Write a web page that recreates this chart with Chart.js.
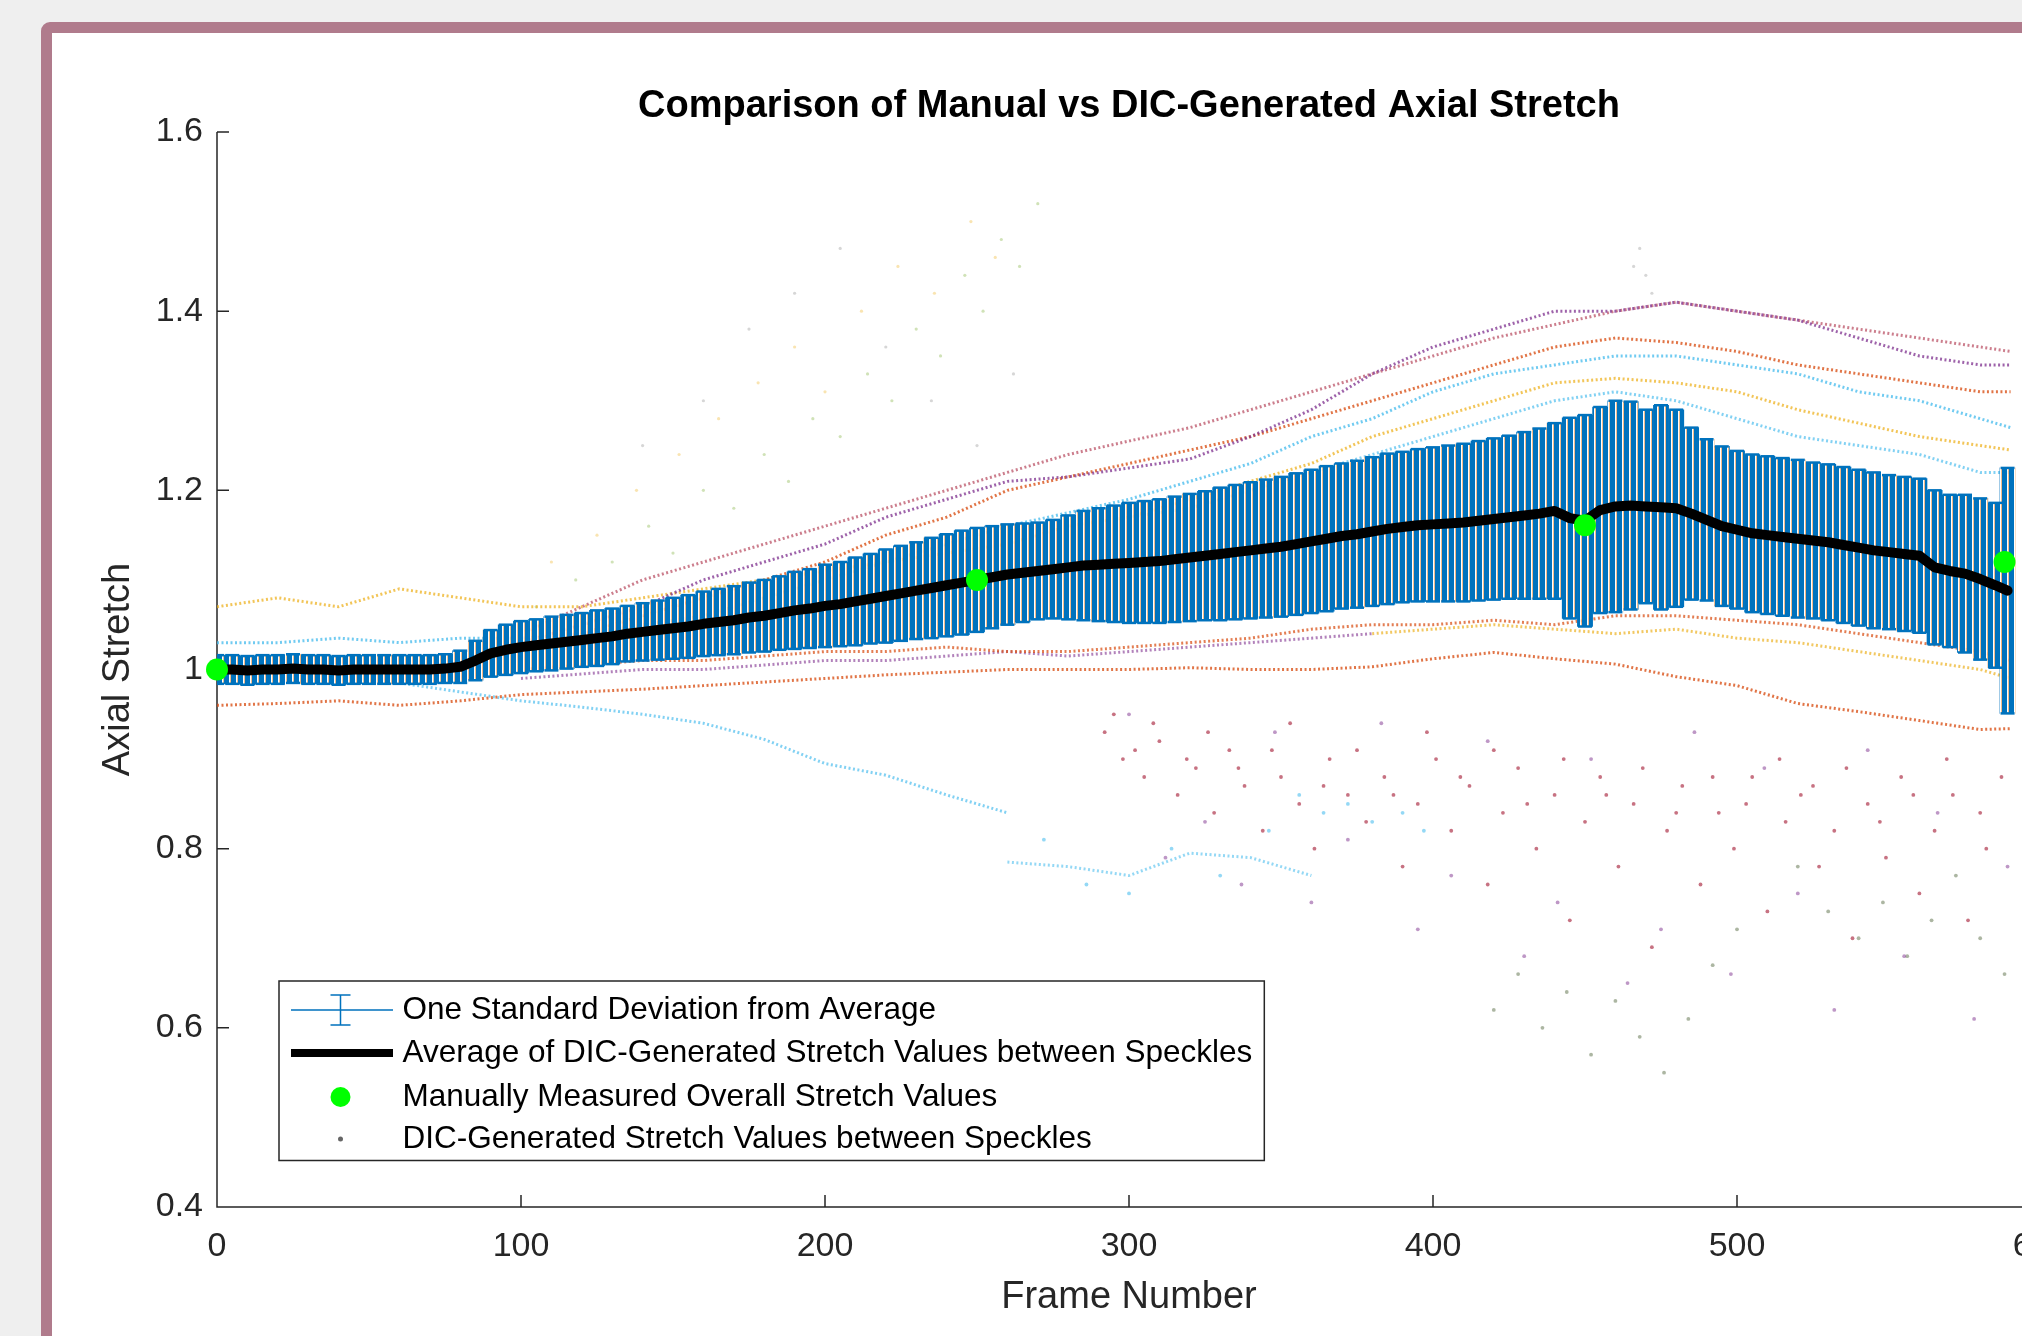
<!DOCTYPE html>
<html><head><meta charset="utf-8">
<script src="https://cdn.jsdelivr.net/npm/chart.js@4.4.1/dist/chart.umd.min.js"></script>
<style>
html,body{margin:0;padding:0;background:#efefef;overflow:hidden;width:2022px;height:1336px;}
#card{position:absolute;left:41px;top:22px;width:2300px;height:1500px;box-sizing:border-box;border:11px solid #b07b8c;border-radius:9px;background:#fff;}
#c{position:absolute;left:0;top:0;z-index:2;}
</style></head><body>
<div id="card"></div>
<canvas id="c" width="2100" height="1336"></canvas>
<script>
// ---------------- DATA ----------------
const chartTitle = 'Comparison of Manual vs DIC-Generated Axial Stretch';
const xAxisTitle = 'Frame Number';
const yAxisTitle = 'Axial Stretch';
const xTickValues = [0,100,200,300,400,500,600];
const xTickLabels = ['0','100','200','300','400','500','600'];
const yTickValues = [0.4,0.6,0.8,1.0,1.2,1.4,1.6];
const yTickLabels = ['0.4','0.6','0.8','1','1.2','1.4','1.6'];
const legendLabels = [
  'One Standard Deviation from Average',
  'Average of DIC-Generated Stretch Values between Speckles',
  'Manually Measured Overall Stretch Values',
  'DIC-Generated Stretch Values between Speckles'
];

// average and one standard deviation (sampled every 5 frames)
const frames = [0,5,10,15,20,25,30,35,40,45,50,55,60,65,70,75,80,85,90,95,
  100,105,110,115,120,125,130,135,140,145,150,155,160,165,170,175,180,185,190,195,
  200,205,210,215,220,225,230,235,240,245,250,255,260,265,270,275,280,285,290,295,
  300,305,310,315,320,325,330,335,340,345,350,355,360,365,370,375,380,385,390,395,
  400,405,410,415,420,425,430,435,440,445,450,455,460,465,470,475,480,485,490,495,
  500,505,510,515,520,525,530,535,540,545,550,555,560,565,570,575,580,585,589];
const meanStretch = [1.000,1.000,0.999,1.000,1.000,1.001,1.000,1.000,0.999,1.000,
  1.000,1.000,1.000,1.000,1.000,1.001,1.003,1.010,1.018,1.022,
  1.025,1.027,1.029,1.031,1.033,1.035,1.037,1.040,1.042,1.044,
  1.046,1.048,1.051,1.053,1.055,1.058,1.060,1.063,1.066,1.068,
  1.071,1.073,1.076,1.079,1.082,1.085,1.088,1.091,1.094,1.097,
  1.100,1.103,1.106,1.108,1.110,1.112,1.114,1.116,1.117,1.118,
  1.119,1.120,1.121,1.123,1.125,1.127,1.129,1.131,1.133,1.135,
  1.137,1.140,1.143,1.146,1.149,1.151,1.154,1.157,1.159,1.161,
  1.162,1.163,1.164,1.166,1.168,1.170,1.172,1.174,1.177,1.169,
  1.166,1.178,1.182,1.183,1.182,1.181,1.180,1.174,1.167,1.160,
  1.156,1.152,1.150,1.148,1.146,1.144,1.142,1.139,1.136,1.133,
  1.131,1.129,1.127,1.114,1.110,1.107,1.101,1.094,1.088];
const stdStretch = [0.016,0.016,0.016,0.016,0.016,0.016,0.016,0.016,0.016,0.016,
  0.016,0.016,0.016,0.016,0.016,0.016,0.018,0.022,0.026,0.028,
  0.029,0.029,0.030,0.030,0.030,0.031,0.031,0.031,0.032,0.033,
  0.034,0.035,0.036,0.037,0.038,0.039,0.040,0.041,0.043,0.044,
  0.046,0.047,0.049,0.050,0.052,0.053,0.054,0.056,0.057,0.058,
  0.058,0.057,0.056,0.055,0.054,0.055,0.058,0.061,0.063,0.065,
  0.067,0.068,0.069,0.070,0.071,0.072,0.074,0.075,0.076,0.077,
  0.078,0.079,0.080,0.081,0.081,0.082,0.083,0.084,0.084,0.085,
  0.086,0.087,0.088,0.089,0.090,0.091,0.093,0.095,0.098,0.112,
  0.118,0.115,0.118,0.116,0.108,0.114,0.110,0.096,0.090,0.089,
  0.088,0.088,0.088,0.088,0.088,0.087,0.087,0.087,0.087,0.087,
  0.086,0.086,0.086,0.086,0.085,0.088,0.090,0.092,0.137];

// manually measured values
const manualFrames = [0,250,450,588];
const manualStretch = [1.000,1.100,1.161,1.120];

// DIC speckle-pair tracks (sampled every 20 frames)
const trackFrames = [0,20,40,60,80,100,120,140,160,180,200,220,240,260,280,300,320,340,360,380,400,420,440,460,480,500,520,540,560,580,590];
const purpleHigh = [null,null,null,null,null,1.03,1.05,1.07,1.10,1.12,1.14,1.17,1.19,1.21,1.215,1.225,1.235,1.26,1.29,1.33,1.36,1.38,1.40,1.40,1.41,1.40,1.39,1.37,1.35,1.34,1.34];
const redHigh = [null,null,null,null,null,1.04,1.07,1.10,1.12,1.14,1.16,1.18,1.20,1.22,1.24,1.255,1.27,1.29,1.31,1.33,1.35,1.37,1.385,1.40,1.41,1.40,1.39,1.38,1.37,1.36,1.355];
const orangeHigh = [null,null,null,null,null,1.02,1.04,1.06,1.08,1.10,1.12,1.15,1.17,1.20,1.215,1.23,1.245,1.26,1.28,1.30,1.32,1.34,1.36,1.37,1.365,1.355,1.34,1.33,1.32,1.31,1.31];
const blueHigh = [1.03,1.03,1.035,1.03,1.035,1.035,1.04,1.05,1.06,1.08,1.10,1.12,1.14,1.16,1.175,1.19,1.21,1.23,1.26,1.28,1.31,1.33,1.34,1.35,1.35,1.34,1.33,1.31,1.30,1.28,1.27];
const yellowHigh = [1.07,1.08,1.07,1.09,1.08,1.07,1.07,1.08,1.09,1.10,1.11,1.12,1.13,1.14,1.16,1.17,1.19,1.21,1.23,1.26,1.28,1.30,1.32,1.325,1.32,1.31,1.29,1.275,1.26,1.25,1.245];
const blueMid = [null,null,null,null,null,null,null,null,null,null,null,null,null,null,null,1.17,1.18,1.20,1.22,1.24,1.26,1.28,1.30,1.31,1.30,1.28,1.26,1.25,1.24,1.22,1.22];
const orangeUnder = [null,null,null,null,null,1.00,1.005,1.01,1.01,1.015,1.02,1.02,1.025,1.02,1.02,1.025,1.03,1.035,1.045,1.05,1.05,1.055,1.05,1.06,1.06,1.055,1.05,1.04,1.03,1.02,1.01];
const purpleUnder = [null,null,null,null,null,0.99,0.995,1.00,1.00,1.005,1.01,1.01,1.015,1.02,1.015,1.02,1.025,1.03,1.035,1.04,null,null,null,null,null,null,null,null,null,null,null];
const yellowUnder = [null,null,null,null,null,null,null,null,null,null,null,null,null,null,null,null,null,null,null,1.04,1.045,1.05,1.045,1.04,1.045,1.035,1.03,1.02,1.01,1.00,0.99];
const orangeLow = [0.96,0.962,0.965,0.96,0.965,0.972,0.975,0.978,0.982,0.986,0.99,0.994,0.997,1.0,1.0,1.0,1.002,1.0,1.0,1.003,1.012,1.019,1.012,1.006,0.992,0.982,0.962,0.953,0.943,0.933,0.934];
const blueLow = [null,null,null,0.985,0.975,0.965,0.958,0.95,0.94,0.922,0.895,0.882,0.86,0.84,null,null,null,null,null,null,null,null,null,null,null,null,null,null,null,null,null];
const blueLower = [null,null,null,null,null,null,null,null,null,null,null,null,null,0.785,0.78,0.77,0.795,0.79,0.77,null,null,null,null,null,null,null,null,null,null,null,null];

// scattered speckle values [frame, stretch]
const cloudDarkRed = [[292,0.93],[298,0.90],[305,0.88],[310,0.92],[316,0.86],[322,0.89],[328,0.84],[333,0.91],[338,0.87],[344,0.82],[350,0.88],[356,0.85],[361,0.80],[366,0.90],[372,0.86],[378,0.83],[384,0.88],[390,0.78],[395,0.85],[401,0.90],[406,0.82],[412,0.87],[418,0.76],[423,0.84],[428,0.89],[434,0.80],[440,0.86],[445,0.72],[450,0.83],[455,0.88],[461,0.78],[466,0.85],[472,0.69],[477,0.82],[482,0.87],[488,0.76],[494,0.84],[499,0.80],[505,0.88],[510,0.73],[516,0.83],[521,0.86],[527,0.78],[532,0.82],[538,0.70],[543,0.85],[549,0.79],[554,0.88],[560,0.75],[565,0.82],[571,0.86],[576,0.72],[582,0.80],[587,0.88],
  [295,0.95],[302,0.91],[308,0.94],[319,0.90],[326,0.93],[336,0.89],[347,0.91],[353,0.94],[364,0.87],[375,0.91],[387,0.86],[398,0.93],[409,0.88],[420,0.91],[431,0.85],[443,0.90],[457,0.86],[469,0.89],[480,0.84],[492,0.88],[503,0.85],[514,0.90],[525,0.87],[536,0.89],[547,0.83],[558,0.86],[569,0.90],[580,0.84]];
const cloudPurple = [[300,0.95],[312,0.79],[325,0.83],[337,0.76],[348,0.93],[360,0.74],[372,0.81],[383,0.94],[395,0.71],[406,0.77],[418,0.92],[430,0.68],[441,0.74],[452,0.90],[464,0.65],[475,0.71],[486,0.93],[498,0.66],[509,0.89],[520,0.75],[532,0.62],[543,0.91],[555,0.68],[566,0.84],[578,0.61],[589,0.78]];
const cloudGreen = [[420,0.62],[428,0.66],[436,0.60],[444,0.64],[452,0.57],[460,0.63],[468,0.59],[476,0.55],[484,0.61],[492,0.67],[500,0.71],[520,0.78],[530,0.73],[540,0.70],[548,0.74],[556,0.68],[564,0.72],[572,0.77],[580,0.70],[588,0.66]];
const cloudLightBlue = [[356,0.86],[364,0.84],[372,0.85],[380,0.83],[390,0.84],[397,0.82],[272,0.81],[286,0.76],[300,0.75],[314,0.80],[330,0.77],[346,0.82]];
const faintOlive = [[105,1.07],[118,1.10],[130,1.12],[142,1.16],[150,1.13],[160,1.20],[170,1.18],[180,1.24],[188,1.21],[196,1.28],[205,1.26],[214,1.33],[222,1.30],[230,1.38],[238,1.35],[246,1.44],[252,1.40],[258,1.48],[264,1.45],[270,1.52]];
const faintYellow = [[110,1.12],[125,1.15],[138,1.20],[152,1.24],[165,1.28],[178,1.32],[190,1.36],[200,1.31],[212,1.40],[224,1.45],[236,1.42],[248,1.50],[256,1.46]];
const faintGray = [[140,1.25],[160,1.30],[175,1.38],[190,1.42],[205,1.47],[220,1.36],[235,1.30],[250,1.25],[262,1.33],[466,1.45],[468,1.47],[470,1.44],[472,1.42]];

// ---------------- BUILD ----------------
const FONT = "'Liberation Sans', Arial, Helvetica, sans-serif";
const BLUE = '#0072BD';
Chart.defaults.font.family = FONT;

function pts(xs, ys){ return xs.map((x,i)=>({x:x, y:ys[i]})); }
function pairPts(list){ return list.map(p=>({x:p[0], y:p[1]})); }

// striped fill to look like dense individual error bars
const pc = document.createElement('canvas'); pc.width = 7; pc.height = 1;
const pctx = pc.getContext('2d');
pctx.fillStyle = BLUE; pctx.fillRect(0,0,5,1);
pctx.fillStyle = 'rgba(255,255,255,0.9)'; pctx.fillRect(5,0,1,1);
pctx.fillStyle = 'rgba(238,175,120,0.85)'; pctx.fillRect(6,0,1,1);
const stripe = document.getElementById('c').getContext('2d').createPattern(pc,'repeat');

const barData = frames.map((f,i)=>({x:f, y:[meanStretch[i]-stdStretch[i], meanStretch[i]+stdStretch[i]]}));
const capHi = frames.map((f,i)=>({x:f, y:meanStretch[i]+stdStretch[i]}));
const capLo = frames.map((f,i)=>({x:f, y:meanStretch[i]-stdStretch[i]}));

function track(arr, color){
  return {type:'scatter', data: pts(trackFrames, arr), showLine:true, spanGaps:false,
    borderColor: color, borderWidth: 3, borderDash:[2,2.5], pointRadius:0, order:5};
}
function cloud(list, color, r){
  return {type:'scatter', data: pairPts(list), showLine:false, pointRadius:r,
    pointBackgroundColor: color, pointBorderWidth:0, order:6};
}

const datasets = [
  {type:'scatter', label:legendLabels[2], data: pts(manualFrames, manualStretch), pointRadius:11,
   pointBackgroundColor:'#00FF00', pointBorderColor:'#00FF00', pointBorderWidth:0, showLine:false, clip:false, order:0},
  {type:'scatter', label:legendLabels[1], data: pts(frames, meanStretch), showLine:true, borderColor:'#000',
   borderWidth:10, pointRadius:0, borderJoinStyle:'round', borderCapStyle:'round', order:1},
  {type:'scatter', data: capHi, pointStyle:'line', pointRadius:7, pointBorderColor:BLUE, pointBorderWidth:2.5, showLine:false, clip:0, order:2},
  {type:'scatter', data: capLo, pointStyle:'line', pointRadius:7, pointBorderColor:BLUE, pointBorderWidth:2.5, showLine:false, clip:0, order:2},
  {type:'bar', label:legendLabels[0], data: barData, backgroundColor: stripe, borderWidth:0, barThickness:15.2, order:3},
  track(purpleHigh, 'rgba(126,47,142,0.75)'),
  track(redHigh, 'rgba(162,20,47,0.55)'),
  track(orangeHigh, 'rgba(217,83,25,0.8)'),
  track(blueHigh, 'rgba(77,190,238,0.8)'),
  track(yellowHigh, 'rgba(237,177,32,0.75)'),
  track(blueMid, 'rgba(77,190,238,0.7)'),
  track(orangeUnder, 'rgba(217,83,25,0.75)'),
  track(purpleUnder, 'rgba(126,47,142,0.6)'),
  track(yellowUnder, 'rgba(237,177,32,0.7)'),
  track(orangeLow, 'rgba(217,83,25,0.8)'),
  track(blueLow, 'rgba(77,190,238,0.7)'),
  track(blueLower, 'rgba(77,190,238,0.6)'),
  cloud(cloudDarkRed, 'rgba(162,20,47,0.6)', 1.9),
  cloud(cloudPurple, 'rgba(126,47,142,0.5)', 1.9),
  cloud(cloudGreen, 'rgba(90,110,70,0.5)', 1.9),
  cloud(cloudLightBlue, 'rgba(77,190,238,0.6)', 1.9),
  cloud(faintOlive, 'rgba(119,172,48,0.35)', 1.6),
  cloud(faintYellow, 'rgba(237,177,32,0.35)', 1.6),
  cloud(faintGray, 'rgba(120,120,120,0.3)', 1.6)
];

const axesPlugin = {
  id: 'matlabAxes',
  beforeDatasetsDraw(chart){
    const {ctx, chartArea:a, scales:{x, y}} = chart;
    ctx.save();
    ctx.strokeStyle = '#262626'; ctx.lineWidth = 1.5;
    ctx.beginPath();
    ctx.moveTo(a.left, a.top); ctx.lineTo(a.left, a.bottom); ctx.lineTo(a.right, a.bottom);
    xTickValues.forEach(v=>{ const px = x.getPixelForValue(v); ctx.moveTo(px, a.bottom); ctx.lineTo(px, a.bottom-12); });
    yTickValues.forEach(v=>{ const py = y.getPixelForValue(v); ctx.moveTo(a.left, py); ctx.lineTo(a.left+12, py); });
    ctx.stroke();
    ctx.restore();
  },
  afterDraw(chart){
    const {ctx, chartArea:a} = chart;
    ctx.save();
    ctx.font = '31.5px ' + FONT;
    const maxW = Math.max(...legendLabels.map(t=>ctx.measureText(t).width));
    const bx = a.left + 62, by = a.bottom - 226, bh = 179.5;
    const tx = bx + 123.5;
    const bw = tx - bx + maxW + 12;
    ctx.fillStyle = '#fff'; ctx.fillRect(bx, by, bw, bh);
    ctx.strokeStyle = '#262626'; ctx.lineWidth = 1.5; ctx.strokeRect(bx, by, bw, bh);
    const rows = [29, 72, 116, 158];
    const sx0 = bx + 12, sx1 = bx + 114, sc = bx + 61.5;
    let ry = by + rows[0];
    ctx.strokeStyle = BLUE; ctx.lineWidth = 1.5;
    ctx.beginPath();
    ctx.moveTo(sx0, ry); ctx.lineTo(sx1, ry);
    ctx.moveTo(sc, ry-15); ctx.lineTo(sc, ry+15);
    ctx.moveTo(sc-10, ry-15); ctx.lineTo(sc+10, ry-15);
    ctx.moveTo(sc-10, ry+15); ctx.lineTo(sc+10, ry+15);
    ctx.stroke();
    ry = by + rows[1];
    ctx.strokeStyle = '#000'; ctx.lineWidth = 8;
    ctx.beginPath(); ctx.moveTo(sx0, ry); ctx.lineTo(sx1, ry); ctx.stroke();
    ry = by + rows[2];
    ctx.fillStyle = '#00FF00'; ctx.beginPath(); ctx.arc(sc, ry, 10, 0, Math.PI*2); ctx.fill();
    ry = by + rows[3];
    ctx.fillStyle = '#666'; ctx.beginPath(); ctx.arc(sc, ry, 2.5, 0, Math.PI*2); ctx.fill();
    ctx.fillStyle = '#000'; ctx.textBaseline = 'middle'; ctx.textAlign = 'left';
    legendLabels.forEach((t,i)=>ctx.fillText(t, tx, by + rows[i]));
    ctx.restore();
  }
};

new Chart(document.getElementById('c'), {
  type: 'scatter',
  data: { datasets: datasets },
  options: {
    responsive: false, animation: false, devicePixelRatio: 1,
    layout: { padding: { left: 52, right: 59, top: 33, bottom: 0 } },
    plugins: {
      legend: { display: false },
      tooltip: { enabled: false },
      title: { display: true, text: chartTitle, color: '#000', fullSize: false,
        font: { size: 38, weight: 'bold', family: FONT }, padding: { top: 51, bottom: 2.4 } }
    },
    scales: {
      x: {
        type: 'linear', min: 0, max: 600, offset: false,
        grid: { display: false, drawTicks: false, offset: false }, border: { display: false },
        afterBuildTicks: (s)=>{ s.ticks = xTickValues.map(v=>({value:v})); },
        ticks: { color: '#262626', font: { size: 34 }, padding: 19.5, maxRotation: 0, autoSkip: false,
          callback: (v)=>{ const i = xTickValues.indexOf(v); return i >= 0 ? xTickLabels[i] : ''; } },
        title: { display: true, text: xAxisTitle, color: '#262626', font: { size: 38 }, padding: { top: 0, bottom: 16 } },
        afterFit: (s)=>{ s.height = 129; s.paddingLeft = 0; s.paddingRight = 0; }
      },
      y: {
        type: 'linear', min: 0.4, max: 1.6,
        grid: { display: false, drawTicks: false }, border: { display: false },
        afterBuildTicks: (s)=>{ s.ticks = yTickValues.map(v=>({value:v})); },
        ticks: { color: '#262626', font: { size: 34 }, padding: 14,
          callback: (v)=>{ const i = yTickValues.findIndex(t=>Math.abs(t-v)<1e-9); return i >= 0 ? yTickLabels[i] : ''; } },
        title: { display: true, text: yAxisTitle, color: '#262626', font: { size: 38 }, padding: { top: 43.8, bottom: 0 } },
        afterFit: (s)=>{ s.width = 165; s.paddingTop = 0; s.paddingBottom = 0; }
      }
    }
  },
  plugins: [axesPlugin]
});
</script></body></html>
